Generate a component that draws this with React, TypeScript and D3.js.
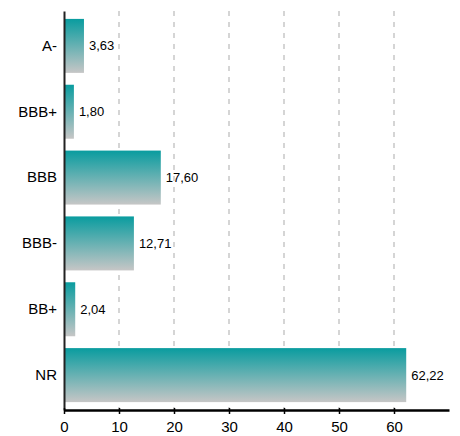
import { useEffect, useRef } from "react";
import * as d3 from "d3";

const ratings = ["A-", "BBB+", "BBB", "BBB-", "BB+", "NR"];
const weights = [3.63, 1.8, 17.6, 12.71, 2.04, 62.22];
const xTicks = [0, 10, 20, 30, 40, 50, 60];

export default function App() {
  const ref = useRef<SVGSVGElement>(null);

  useEffect(() => {
    const w = 460, h = 436;
    const m = { top: 11, right: 11, bottom: 26, left: 64 };

    const svg = d3.select(ref.current).html("");

    const defs = svg.append("defs");
    const grad = defs
      .append("linearGradient")
      .attr("id", "barGrad")
      .attr("x1", 0).attr("y1", 0)
      .attr("x2", 0).attr("y2", 1);
    grad.append("stop").attr("offset", "0%").attr("stop-color", "#099c9f");
    grad.append("stop").attr("offset", "100%").attr("stop-color", "#c6c6c6");

    const x = d3.scaleLinear().domain([0, 70]).range([m.left, w - m.right]);
    const y = d3
      .scaleBand()
      .domain(ratings)
      .range([m.top, h - m.bottom])
      .paddingInner(0.18)
      .paddingOuter(0.12);

    // dashed grid
    svg
      .append("g")
      .selectAll("line")
      .data(xTicks.filter((t) => t > 0))
      .enter()
      .append("line")
      .attr("x1", (d) => x(d))
      .attr("x2", (d) => x(d))
      .attr("y1", m.top)
      .attr("y2", h - m.bottom)
      .attr("stroke", "#c8c8c8")
      .attr("stroke-width", 1.5)
      .attr("stroke-dasharray", "5,6");

    const data = ratings.map((r, i) => ({ r, v: weights[i] }));

    svg
      .append("g")
      .selectAll("rect")
      .data(data)
      .enter()
      .append("rect")
      .attr("x", x(0))
      .attr("y", (d) => y(d.r)!)
      .attr("width", (d) => x(d.v) - x(0))
      .attr("height", y.bandwidth())
      .attr("fill", "url(#barGrad)");

    svg
      .append("g")
      .selectAll("text")
      .data(data)
      .enter()
      .append("text")
      .attr("x", (d) => x(d.v) + 5)
      .attr("y", (d) => y(d.r)! + y.bandwidth() / 2)
      .attr("dy", "0.35em")
      .attr("font-family", "Liberation Sans, Arial, sans-serif")
      .attr("font-size", 13)
      .attr("fill", "#000")
      .text((d) => d.v.toFixed(2).replace(".", ","));

    // y axis
    const yAxis = svg
      .append("g")
      .attr("transform", `translate(${m.left},0)`)
      .call(d3.axisLeft(y).tickSize(0).tickPadding(7));
    yAxis.select(".domain").attr("stroke", "#222").attr("stroke-width", 2);
    yAxis
      .selectAll("text")
      .attr("font-family", "Liberation Sans, Arial, sans-serif")
      .attr("font-size", 15)
      .attr("fill", "#000");

    // x axis
    const xAxis = svg
      .append("g")
      .attr("transform", `translate(0,${h - m.bottom})`)
      .call(d3.axisBottom(x).tickValues(xTicks).tickSize(4).tickSizeOuter(0).tickPadding(7));
    xAxis.select(".domain").attr("stroke", "#000").attr("stroke-width", 2.5);
    xAxis
      .selectAll(".tick line")
      .attr("y1", -2)
      .attr("stroke", "#000")
      .attr("stroke-width", 1.5);
    xAxis
      .selectAll("text")
      .attr("font-family", "Liberation Sans, Arial, sans-serif")
      .attr("font-size", 15)
      .attr("fill", "#000");
  }, []);

  return (
    <svg
      ref={ref}
      width={460}
      height={436}
      style={{ position: "absolute", left: 0, top: 0 }}
    />
  );
}
